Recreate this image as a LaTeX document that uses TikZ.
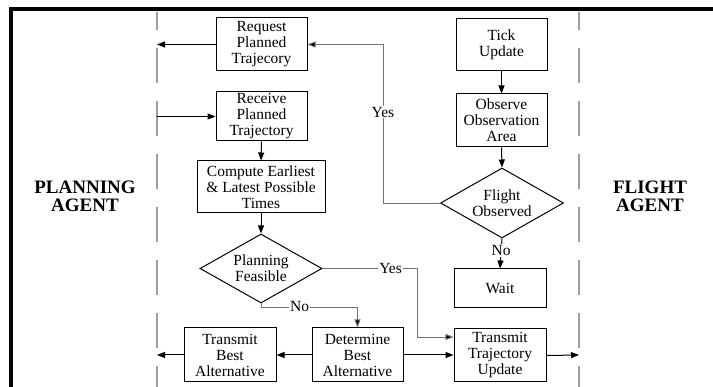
\documentclass[tikz,border=0pt]{standalone}
\usepackage{fontspec}
\setmainfont{Liberation Serif}
\usetikzlibrary{shapes.geometric,arrows.meta}
\begin{document}
\begin{tikzpicture}[x=1pt,y=-1pt,
  txt/.style={font=\fontsize{15.5}{16}\selectfont},
  box/.style={txt, draw, line width=1pt, align=center, inner sep=0pt},
  decision/.style={txt, draw, line width=1pt, align=center, diamond, inner sep=0pt, shape aspect=1.77},
  lane/.style={draw=black!38, line width=1.4pt, dash pattern=on 35pt off 18pt, dash phase=17pt},
  flow/.style={draw, line width=1pt, -{Triangle[length=8pt,width=6pt]}},
  branch/.style={draw=black!55, line width=0.9pt, -{Triangle[length=8pt,width=6pt,fill=black]}},
  tag/.style={txt, fill=white, inner sep=1pt},
  agent/.style={font=\fontsize{19}{18}\selectfont\bfseries, align=center}]
\useasboundingbox (0,0) rectangle (713,387);

% frame
\draw[line width=4.3pt, line join=miter] (713,8.7) -- (11,8.7) -- (11,387);

% swim-lane boundaries
\coordinate (laneLtop) at (157,12);
\coordinate (laneLbot) at (157,387);
\coordinate (laneRtop) at (579,12);
\coordinate (laneRbot) at (579,387);
\draw[lane] (laneLtop) -- (laneLbot);
\draw[lane] (laneRtop) -- (laneRbot);

% agents
\node[agent] (planning) at (85,196) {PLANNING\\AGENT};
\node[agent] (flight) at (650,196) {FLIGHT\\AGENT};

% planning agent steps
\node[box, minimum width=91pt, minimum height=53pt] (req) at (261.5,44.5) {Request\\Planned\\Trajecory};
\node[box, minimum width=91pt, minimum height=49pt] (rec) at (261.5,116.5) {Receive\\Planned\\Trajectory};
\node[box, minimum width=128pt, minimum height=52pt] (cmp) at (261,187) {Compute Earliest\\\& Latest Possible\\Times};
\node[decision, minimum width=122pt, minimum height=69pt] (pf) at (261,268.5) {Planning\\Feasible};
\node[box, minimum width=92pt, minimum height=54pt] (tba) at (230,355) {Transmit\\Best\\Alternative};
\node[box, minimum width=91pt, minimum height=54pt] (det) at (357.5,355) {Determine\\Best\\Alternative};
\node[box, minimum width=92pt, minimum height=53pt] (ttu) at (500,355.5) {Transmit\\Trajectory\\Update};

% flight agent steps
\node[box, minimum width=91pt, minimum height=52pt] (tick) at (501.5,45) {Tick\\Update};
\node[box, minimum width=91pt, minimum height=53pt] (obs) at (501.5,120.5) {Observe\\Observation\\Area};
\node[decision, minimum width=123pt, minimum height=70pt] (fo) at (502,203) {Flight\\Observed};
\node[box, minimum width=92pt, minimum height=39pt] (wait) at (500,288.5) {Wait};

% lane crossing points
\coordinate (reqOut) at (157,44.5);
\coordinate (recIn) at (157,116.5);
\coordinate (tbaOut) at (157,355);
\coordinate (ttuOut) at (579,355);
\coordinate (yesUp) at (383,44.5);
\coordinate (yesDown) at (417,268.5);
\coordinate (noCorner) at (357.5,307);

% connectors
\draw[flow] (req.west) -- (reqOut);
\draw[flow] (recIn) -- (rec.west);
\draw[flow] (rec.south) -- (cmp.north);
\draw[flow] (cmp.south) -- (pf.north);
\draw[flow] (det.west) -- (tba.east);
\draw[flow] (tba.west) -- (tbaOut);
\draw[flow] (det.east) -- (det.east -| ttu.west);
\draw[flow] (ttu.east) -- (ttuOut);
\draw[flow] (tick.south) -- (obs.north);
\draw[flow] (obs.south) -- (fo.north);
\draw[flow] (fo.south) -- node[tag, pos=0.4] (noF) {No} (wait.north);

\draw[branch] (fo.west) -| node[tag, pos=0.786] (yesF) {Yes} (yesUp) -- (req.east);
\draw[branch] (pf.east) -- node[tag, pos=0.72] (yesP) {Yes} (yesDown) |- ([yshift=18.5pt]ttu.west);
\draw[branch] (pf.south) |- node[tag, pos=0.7] (noP) {No} (noCorner) -- (det.north);
\end{tikzpicture}
\end{document}
